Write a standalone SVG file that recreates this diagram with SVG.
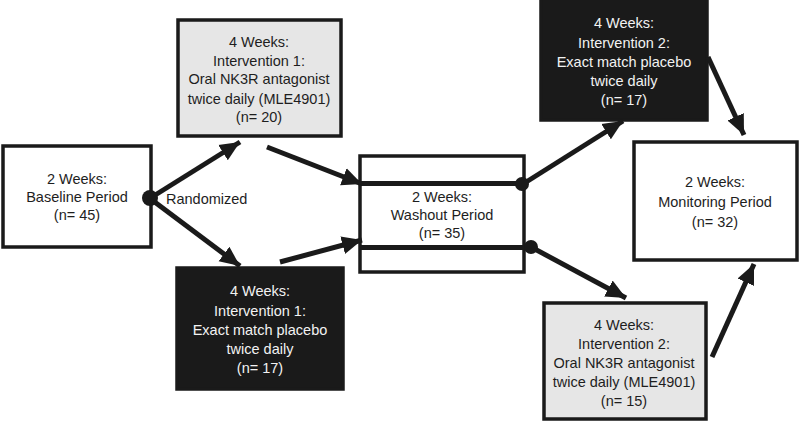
<svg xmlns="http://www.w3.org/2000/svg" width="800" height="422" viewBox="0 0 800 422">
<style>
.box{stroke:#1a1a1a;stroke-width:3.5}
.white{fill:#ffffff}
.gray{fill:#e6e6e6}
.black{fill:#1a1a1a;stroke:#1a1a1a}
text{font-family:"Liberation Sans",Arial,sans-serif;font-size:14.5px;text-anchor:middle;fill:#1e1e1e}
.lt{fill:#f2f2f2}
.conn{stroke:#1a1a1a;stroke-width:5;fill:none}
.dot{fill:#1a1a1a}
</style>
<defs>
<marker id="ah" markerUnits="userSpaceOnUse" markerWidth="22" markerHeight="22" viewBox="0 0 22 22" refX="20" refY="11" orient="auto">
<path d="M0,2 L20,11 L0,20 Z" fill="#1a1a1a"/>
</marker>
</defs>
<rect width="800" height="422" fill="#ffffff"/>
<g id="baseline">
<rect class="box white" x="3" y="146" width="148" height="101"/>
<text x="77" y="184">2 Weeks:</text>
<text x="77" y="202">Baseline Period</text>
<text x="77" y="220">(n= 45)</text>
</g>
<text x="166" y="204" style="text-anchor:start">Randomized</text>
<g id="int1-drug">
<rect class="box gray" x="178" y="20" width="163" height="116"/>
<text x="259" y="47">4 Weeks:</text>
<text x="259" y="66">Intervention 1:</text>
<text x="259" y="84">Oral NK3R antagonist</text>
<text x="259" y="104">twice daily (MLE4901)</text>
<text x="259" y="122">(n= 20)</text>
</g>
<g id="int1-placebo">
<rect class="box black" x="177" y="268" width="166" height="121"/>
<text class="lt" x="260" y="296">4 Weeks:</text>
<text class="lt" x="260" y="316">Intervention 1:</text>
<text class="lt" x="260" y="335">Exact match placebo</text>
<text class="lt" x="260" y="354">twice daily</text>
<text class="lt" x="260" y="373">(n= 17)</text>
</g>
<g id="washout">
<rect class="box white" x="360" y="156" width="164" height="116"/>
<line class="conn" x1="360" y1="183.5" x2="522" y2="183.5"/>
<line class="conn" x1="360" y1="247.5" x2="531" y2="247.5"/>
<text x="442" y="202">2 Weeks:</text>
<text x="442" y="220">Washout Period</text>
<text x="442" y="238">(n= 35)</text>
</g>
<g id="int2-placebo">
<rect class="box black" x="541" y="-5" width="166" height="125"/>
<text class="lt" x="624" y="28">4 Weeks:</text>
<text class="lt" x="624" y="48">Intervention 2:</text>
<text class="lt" x="624" y="67">Exact match placebo</text>
<text class="lt" x="624" y="86">twice daily</text>
<text class="lt" x="624" y="105">(n= 17)</text>
</g>
<g id="monitoring">
<rect class="box white" x="634" y="142" width="163" height="118"/>
<text x="715" y="187">2 Weeks:</text>
<text x="715" y="207">Monitoring Period</text>
<text x="715" y="227">(n= 32)</text>
</g>
<g id="int2-drug">
<rect class="box gray" x="544" y="303" width="162" height="116"/>
<text x="624" y="330">4 Weeks:</text>
<text x="624" y="349">Intervention 2:</text>
<text x="624" y="368">Oral NK3R antagonist</text>
<text x="624" y="387">twice daily (MLE4901)</text>
<text x="624" y="406">(n= 15)</text>
</g>
<g id="connectors">
<line class="conn" x1="152" y1="197" x2="240" y2="142" marker-end="url(#ah)"/>
<line class="conn" x1="152" y1="200" x2="240" y2="266" marker-end="url(#ah)"/>
<line class="conn" x1="267" y1="147" x2="362" y2="184" marker-end="url(#ah)"/>
<line class="conn" x1="280" y1="262" x2="362" y2="240" marker-end="url(#ah)"/>
<line class="conn" x1="523" y1="184" x2="623" y2="121" marker-end="url(#ah)"/>
<line class="conn" x1="531" y1="247" x2="626" y2="298" marker-end="url(#ah)"/>
<line class="conn" x1="708" y1="57" x2="744" y2="135" marker-end="url(#ah)"/>
<line class="conn" x1="712" y1="357" x2="754" y2="264" marker-end="url(#ah)"/>
<circle class="dot" cx="150" cy="198" r="8"/>
<circle class="dot" cx="522" cy="184" r="7"/>
<circle class="dot" cx="531" cy="247" r="7"/>
</g>
</svg>
